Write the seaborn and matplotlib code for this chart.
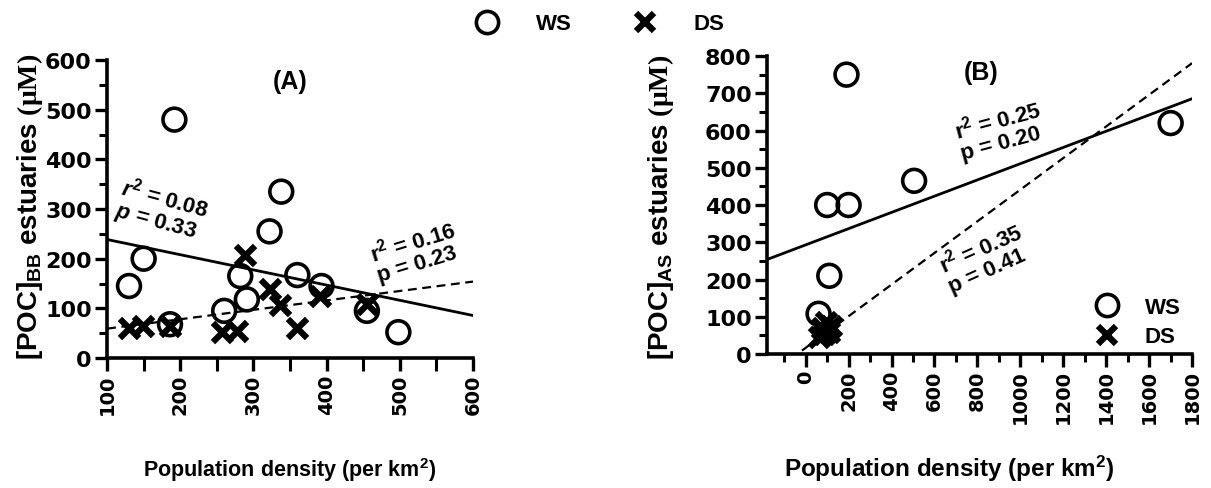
import numpy as np
import pandas as pd
import matplotlib
matplotlib.use("Agg")
import matplotlib.pyplot as plt
import seaborn as sns
from matplotlib.lines import Line2D
from matplotlib.ticker import MultipleLocator

# ---------------- data ----------------
# Panel A: Bay of Bengal estuaries
a_ws_x = [130, 150, 192, 186, 260, 282, 291, 322, 338, 360, 393, 455, 498]
a_ws_y = [145, 200, 480, 68, 95, 165, 118, 255, 335, 167, 145, 95, 52]
a_ds_x = [130, 149, 186, 257, 278, 289, 323, 336, 360, 391, 455]
a_ds_y = [60, 64, 65, 52, 55, 207, 138, 106, 60, 125, 108]

# Panel B: Arabian Sea estuaries
b_ws_x = [190, 100, 200, 505, 110, 60, 1700]
b_ws_y = [750, 400, 400, 465, 210, 108, 620]
b_ds_x = [60, 75, 95, 110, 120, 85]
b_ds_y = [45, 70, 85, 60, 75, 55]
# regression lines of panel B: (intercept, slope)
b_ws_fit = (293.0, 0.218)
b_ds_fit = (16.6, 0.4246)

stats_a_ws = ("0.08", "0.33")
stats_a_ds = ("0.16", "0.23")
stats_b_ws = ("0.25", "0.20")
stats_b_ds = ("0.35", "0.41")

a_xticks = [100, 200, 300, 400, 500, 600]
b_xticks = [0, 200, 400, 600, 800, 1000, 1200, 1400, 1600, 1800]

# ---------------- style ----------------
sns.set_theme(style="ticks", rc={"text.color": "black", "axes.labelcolor": "black",
                                 "xtick.color": "black", "ytick.color": "black",
                                 "axes.edgecolor": "black"})
plt.rcParams["font.family"] = ["Liberation Sans", "DejaVu Sans"]
plt.rcParams["font.weight"] = "bold"
plt.rcParams["mathtext.fontset"] = "custom"
plt.rcParams["mathtext.rm"] = "Liberation Sans:bold"
plt.rcParams["mathtext.bf"] = "Liberation Sans:bold"
plt.rcParams["mathtext.it"] = "Liberation Sans:italic:bold"
plt.rcParams["mathtext.sf"] = "Liberation Serif"

fig = plt.figure(figsize=(12.11, 4.89), dpi=100)
axA = fig.add_axes([0.0884, 0.2658, 0.3022, 0.6094])
axB = fig.add_axes([0.6334, 0.2740, 0.3510, 0.6094])

circ_kw = dict(marker="o", s=270, facecolors="none", edgecolor="black", linewidth=2.6, zorder=3)
x_kw = dict(marker="x", s=190, color="black", linewidth=4.5, zorder=3)
solid_kw = dict(color="black", lw=2.0)
dash_kw = dict(color="black", lw=1.6, ls=(0, (4, 2.5)))

ytick_font = dict(family="DejaVu Sans", weight="bold", size=16)
xtick_font = dict(family="DejaVu Sans", weight="bold", size=14)


def style_axis(ax, xlim, ylim, xmaj, xmin, ymaj, ymin, xticks, xminor_len):
    ax.set_xlim(*xlim)
    ax.set_ylim(*ylim)
    ax.xaxis.set_major_locator(MultipleLocator(xmaj))
    ax.xaxis.set_minor_locator(MultipleLocator(xmin))
    ax.yaxis.set_major_locator(MultipleLocator(ymaj))
    ax.yaxis.set_minor_locator(MultipleLocator(ymin))
    sns.despine(ax=ax)
    for s in ("left", "bottom"):
        ax.spines[s].set_linewidth(2.6)
        ax.spines[s].set_color("black")
    ax.tick_params(axis="both", which="major", direction="out", length=9, width=2.4,
                   color="black", pad=2)
    ax.tick_params(axis="y", which="minor", direction="out", length=6, width=2.2, color="black")
    ax.tick_params(axis="x", which="minor", direction="out", length=xminor_len, width=2.2,
                   color="black")
    ax.set_xticks(xticks)
    ax.set_xticklabels([str(t) for t in xticks], rotation=90, **xtick_font)
    yt = ax.get_yticks()
    ax.set_yticks(yt)
    ax.set_yticklabels([str(int(t)) for t in yt], **ytick_font)
    ax.set_xlim(*xlim)
    ax.set_ylim(*ylim)
    ax.grid(False)


# ---------------- panel A ----------------
style_axis(axA, (100, 600), (0, 600), 100, 50, 100, 50, a_xticks, 9)
sns.scatterplot(x=a_ws_x, y=a_ws_y, ax=axA, **circ_kw)
sns.scatterplot(x=a_ds_x, y=a_ds_y, ax=axA, **x_kw)
sns.regplot(x=a_ws_x, y=a_ws_y, ax=axA, scatter=False, ci=None, truncate=False,
            line_kws=solid_kw)
sns.regplot(x=a_ds_x, y=a_ds_y, ax=axA, scatter=False, ci=None, truncate=False,
            line_kws=dash_kw)
axA.set_xlim(100, 600)
axA.set_ylim(0, 600)

axA.text(0.5, 0.93, "(A)", transform=axA.transAxes, ha="center", va="center",
         fontsize=18, fontweight="bold")
axA.text(0.15, 0.50, "$\\mathit{r}^{2}$ = $\\mathit{%s}$\n$\\mathit{p}$ = $\\mathit{%s}$" % stats_a_ws,
         transform=axA.transAxes, ha="center", va="center", rotation=-15,
         rotation_mode="anchor", fontsize=16, fontweight="bold", fontstyle="italic",
         multialignment="left", linespacing=1.0)
axA.text(0.845, 0.36, "r$^{2}$ = %s\np = %s" % stats_a_ds,
         transform=axA.transAxes, ha="center", va="center", rotation=17,
         rotation_mode="anchor", fontsize=16, fontweight="bold",
         multialignment="left", linespacing=1.0)

axA.set_ylabel("[POC]$_{\\mathregular{BB}}$ estuaries $\\mathsf{(\u03bcM)}$",
               fontsize=20, fontweight="bold")
axA.yaxis.set_label_coords(-0.17, 0.51)
axA.set_xlabel("Population density (per km$^{\\mathregular{2}}$)",
               family="Liberation Sans", fontsize=15.5, fontweight="bold")
axA.xaxis.set_label_coords(0.5, -0.325)

# ---------------- panel B ----------------
style_axis(axB, (-180, 1800), (0, 800), 200, 100, 100, 50, b_xticks, 6)
sns.scatterplot(x=b_ws_x, y=b_ws_y, ax=axB, **circ_kw)
sns.scatterplot(x=b_ds_x, y=b_ds_y, ax=axB, **x_kw)
line_x = np.array(axB.get_xlim())
sns.lineplot(x=line_x, y=b_ws_fit[0] + b_ws_fit[1] * line_x, ax=axB, **solid_kw)
sns.lineplot(x=line_x, y=b_ds_fit[0] + b_ds_fit[1] * line_x, ax=axB, **dash_kw)
axB.set_xlim(-180, 1800)
axB.set_ylim(0, 800)

axB.text(0.504, 0.946, "(B)", transform=axB.transAxes, ha="center", va="center",
         fontsize=18, fontweight="bold")
axB.text(0.55, 0.752, "r$^{2}$ = %s\np = %s" % stats_b_ws,
         transform=axB.transAxes, ha="center", va="center", rotation=15,
         rotation_mode="anchor", fontsize=16, fontweight="bold",
         multialignment="left", linespacing=1.0)
axB.text(0.513, 0.325, "r$^{2}$ = %s\np = %s" % stats_b_ds,
         transform=axB.transAxes, ha="center", va="center", rotation=24,
         rotation_mode="anchor", fontsize=16, fontweight="bold",
         multialignment="left", linespacing=1.0)

axB.set_ylabel("[POC]$_{\\mathregular{AS}}$ estuaries $\\mathsf{(\u03bcM)}$",
               fontsize=20, fontweight="bold")
axB.yaxis.set_label_coords(-0.215, 0.497)
axB.set_xlabel("Population density (per km$^{\\mathregular{2}}$)",
               family="Liberation Sans", fontsize=17.5, fontweight="bold")
axB.xaxis.set_label_coords(0.428, -0.33)

# ---------------- legends ----------------
h_ws = Line2D([], [], marker="o", ls="", mfc="none", mec="black", ms=16, mew=2.6)
h_ds = Line2D([], [], marker="x", ls="", color="black", ms=13, mew=4.5)

fig.legend([h_ws, h_ds], ["WS", "DS"], loc="center", bbox_to_anchor=(600 / 1211, 1 - 25 / 489),
           ncol=2, frameon=False, handlelength=1.0, handletextpad=1.7, columnspacing=2.8,
           prop=dict(family="Liberation Sans", weight="bold", size=16))
axB.legend([h_ws, h_ds], ["WS", "DS"], loc="lower right", bbox_to_anchor=(1.02, -0.045),
           frameon=False, handlelength=1.0, handletextpad=1.2, labelspacing=0.4,
           prop=dict(family="Liberation Sans", weight="bold", size=16))

fig.savefig("out.png", dpi=100)
